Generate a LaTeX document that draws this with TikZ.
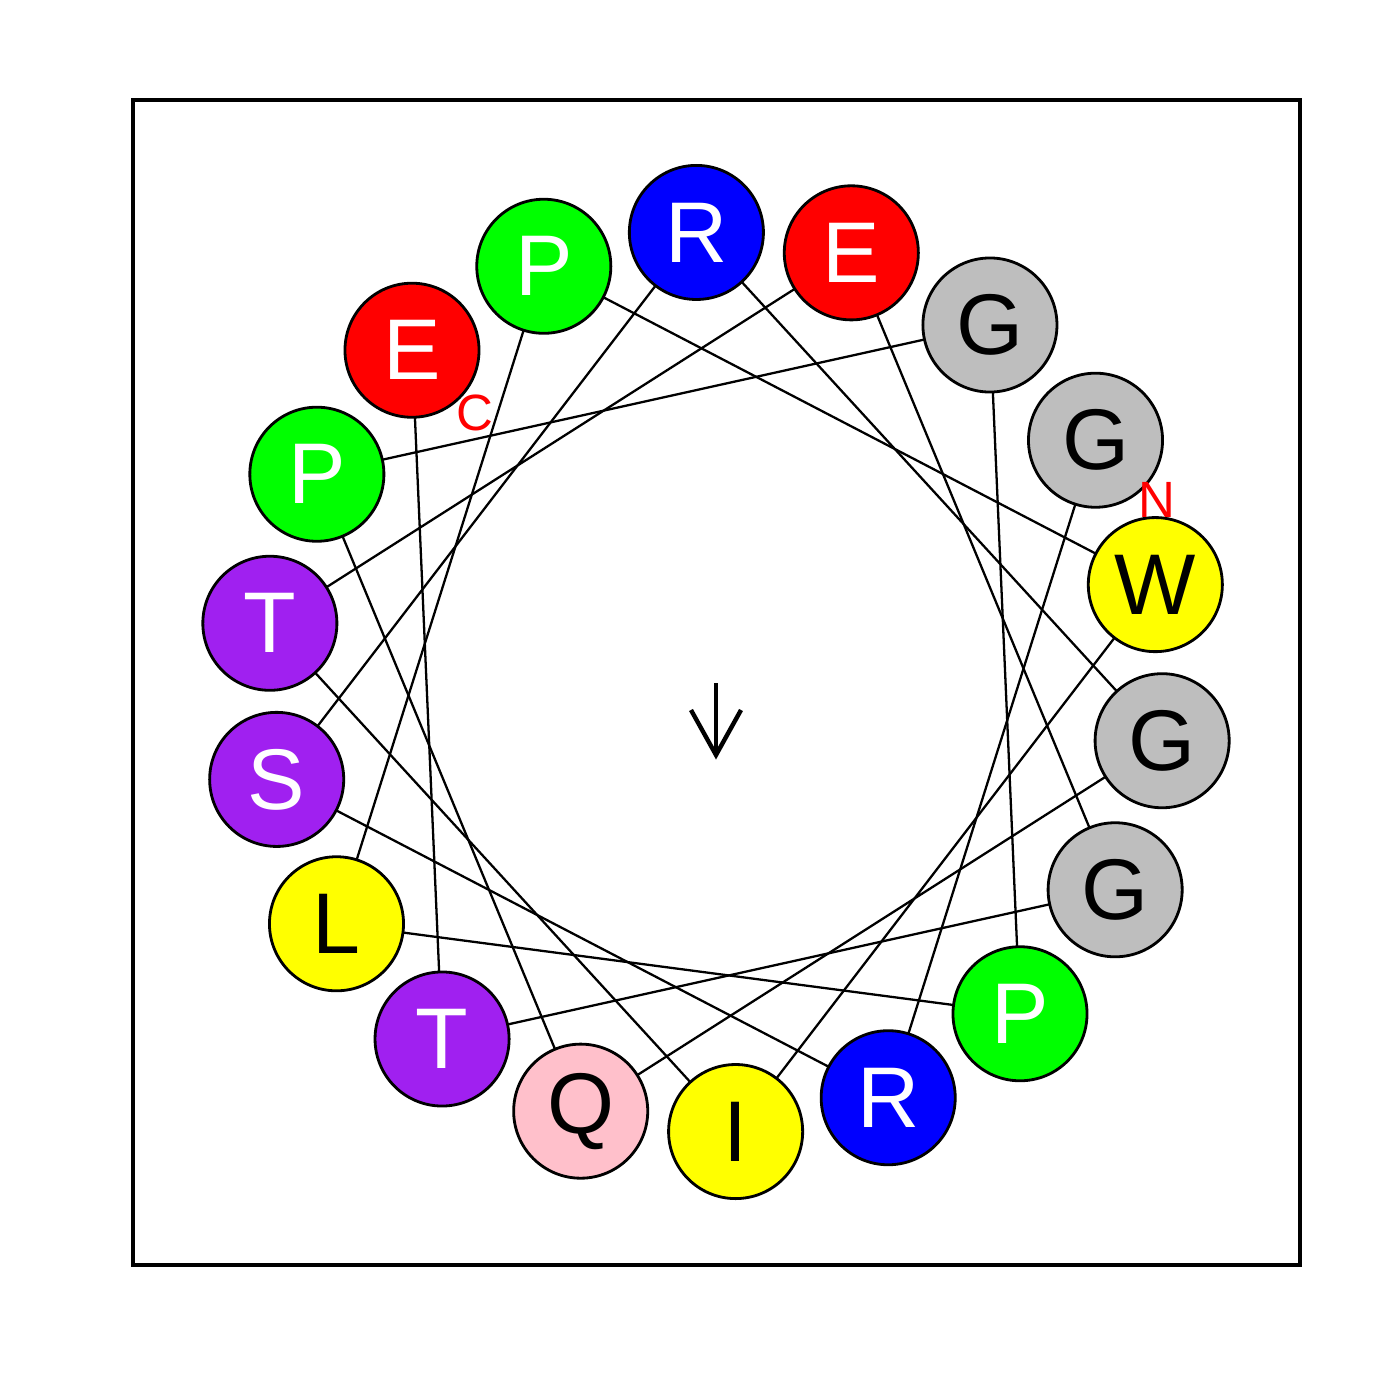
\documentclass[tikz,border=0pt]{standalone}
\usepackage{fontspec}
\setmainfont{Liberation Sans}
\usetikzlibrary{backgrounds}
\definecolor{rgray}{HTML}{BEBEBE}
\definecolor{rpurple}{HTML}{A020F0}
\definecolor{rpink}{HTML}{FFC0CB}
\definecolor{rgreen}{HTML}{00FF00}
\definecolor{rblue}{HTML}{0000FF}
\definecolor{rred}{HTML}{FF0000}
\definecolor{ryellow}{HTML}{FFFF00}
\tikzset{
  res/.style={circle, draw=black, line width=0.8pt, minimum size=1.34cm, inner sep=0pt,
    font=\fontsize{24.5}{24.5}\selectfont},
  link/.style={line width=0.65pt},
  term/.style={text=rred, font=\fontsize{14.5}{14.5}\selectfont, inner sep=0pt},
  frame/.style={line width=0.9pt},
  moment/.style={line width=1.25pt}
}
\begin{document}
\begin{tikzpicture}[x=0.01cm,y=-0.01cm]
\useasboundingbox (0,0) rectangle (1400,1400);
\draw[frame] (133,100) rectangle (1300,1265);
\foreach \i/\a/\l/\f/\t in {
  1/32.5/G/rgray/black,
  2/292.5/R/rblue/white,
  3/192.5/S/rpurple/white,
  4/92.5/R/rblue/white,
  5/352.5/G/rgray/black,
  6/252.5/Q/rpink/black,
  7/152.5/P/rgreen/white,
  8/52.5/G/rgray/black,
  9/312.5/P/rgreen/white,
  10/212.5/L/ryellow/black,
  11/112.5/P/rgreen/white,
  12/12.5/W/ryellow/black,
  13/272.5/I/ryellow/black,
  14/172.5/T/rpurple/white,
  15/72.5/E/rred/white,
  16/332.5/G/rgray/black,
  17/232.5/T/rpurple/white,
  18/132.5/E/rred/white}{
  \node[res, fill=\f, text=\t] (r\i) at ({716+450*cos(\a)},{682-450*sin(\a)}) {\l};
}
\begin{pgfonlayer}{background}
\foreach \i [evaluate=\i as \j using int(\i+1)] in {1,...,17}{
  \draw[link] (r\i.center) -- (r\j.center);
}
\end{pgfonlayer}
\node[term] (nterm) at (1157,500) {N};
\node[term] (cterm) at (475,413) {C};
\coordinate (mstart) at (716,683);
\coordinate (mend) at (716,755);
\coordinate (mleft) at (691,710);
\coordinate (mright) at (741,710);
\draw[moment] (mstart) -- (mend);
\draw[moment] (mleft) -- (mend) -- (mright);
\end{tikzpicture}
\end{document}
